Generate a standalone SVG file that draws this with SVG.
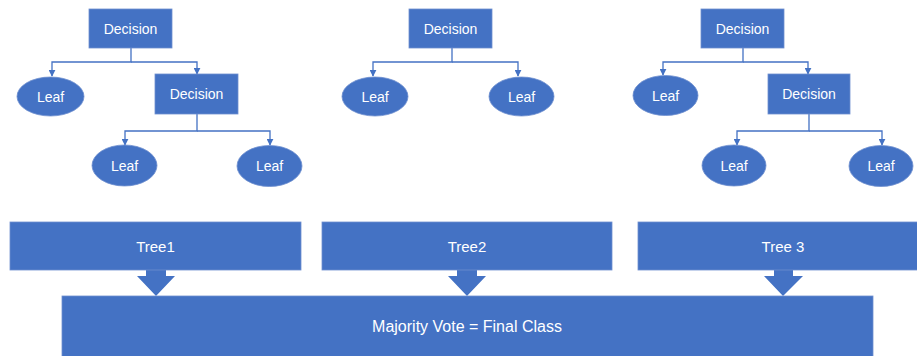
<svg xmlns="http://www.w3.org/2000/svg" width="917" height="356" viewBox="0 0 917 356">
  <style>
    .dec { fill: #4472C4; stroke: #6f8fcf; stroke-width: 0.8; }
    .leaf { fill: #4472C4; stroke: #6f8fcf; stroke-width: 0.8; }
    .bar { fill: #4472C4; stroke: #6f8fcf; stroke-width: 0.8; }
    .blk { fill: #4472C4; }
    .lbl { fill: #ffffff; font-family: "Liberation Sans", Arial, sans-serif; font-size: 14px; text-anchor: middle; dominant-baseline: central; }
    .big { font-size: 15px; }
    .vote { font-size: 16px; }
    .con { fill: none; stroke: #4472C4; stroke-width: 1.3; }
  </style>
  <defs>
    <marker id="arr" viewBox="0 0 10 10" refX="9" refY="5" markerWidth="7" markerHeight="7" markerUnits="userSpaceOnUse" orient="auto">
      <path d="M0,0 L10,5 L0,10 Z" fill="#4472C4"/>
    </marker>
  </defs>
  <rect width="917" height="356" fill="#ffffff"/>

  <!-- connectors -->
  <g id="connectors">
    <!-- tree 1 -->
    <path class="con" d="M131,48 V62 H52 V76" marker-end="url(#arr)"/>
    <path class="con" d="M131,62 H197 V74" marker-end="url(#arr)"/>
    <path class="con" d="M197,114 V131 H125 V145" marker-end="url(#arr)"/>
    <path class="con" d="M197,131 H270 V145" marker-end="url(#arr)"/>
    <!-- tree 2 -->
    <path class="con" d="M452,48 V62 H373 V76" marker-end="url(#arr)"/>
    <path class="con" d="M452,62 H518 V76" marker-end="url(#arr)"/>
    <!-- tree 3 -->
    <path class="con" d="M743,48 V62 H663 V75" marker-end="url(#arr)"/>
    <path class="con" d="M743,62 H808 V74" marker-end="url(#arr)"/>
    <path class="con" d="M809,114 V131 H737 V145" marker-end="url(#arr)"/>
    <path class="con" d="M809,131 H882 V145" marker-end="url(#arr)"/>
    <!-- block arrows into the vote bar -->
    <path class="blk" d="M146,270 H166 V276 H175 L156,296 L137,276 H146 Z"/>
    <path class="blk" d="M457,270 H477 V276 H486 L467,296 L448,276 H457 Z"/>
    <path class="blk" d="M774,270 H793 V276 H803 L783,296 L764,276 H774 Z"/>
  </g>

  <!-- tree 1 -->
  <g id="t1-root"><rect class="dec" x="89" y="9" width="83" height="39"/><text class="lbl" x="130.5" y="28.5">Decision</text></g>
  <g id="t1-leaf1"><ellipse class="leaf" cx="50.5" cy="96.5" rx="33.5" ry="19.5"/><text class="lbl" x="50.5" y="96.5">Leaf</text></g>
  <g id="t1-dec2"><rect class="dec" x="155" y="74" width="83" height="40"/><text class="lbl" x="196.5" y="94">Decision</text></g>
  <g id="t1-leaf2"><ellipse class="leaf" cx="124.5" cy="165.5" rx="32.5" ry="20.5"/><text class="lbl" x="124.5" y="165.5">Leaf</text></g>
  <g id="t1-leaf3"><ellipse class="leaf" cx="269.5" cy="166" rx="32.5" ry="20.5"/><text class="lbl" x="269.5" y="166">Leaf</text></g>

  <!-- tree 2 -->
  <g id="t2-root"><rect class="dec" x="409" y="9" width="83" height="39"/><text class="lbl" x="450.5" y="28.5">Decision</text></g>
  <g id="t2-leaf1"><ellipse class="leaf" cx="375" cy="96.5" rx="33" ry="19.5"/><text class="lbl" x="375" y="96.5">Leaf</text></g>
  <g id="t2-leaf2"><ellipse class="leaf" cx="521.5" cy="96.5" rx="32.5" ry="19.5"/><text class="lbl" x="521.5" y="96.5">Leaf</text></g>

  <!-- tree 3 -->
  <g id="t3-root"><rect class="dec" x="701" y="9" width="83" height="39"/><text class="lbl" x="742.5" y="28.5">Decision</text></g>
  <g id="t3-leaf1"><ellipse class="leaf" cx="665.5" cy="95.5" rx="32.5" ry="20"/><text class="lbl" x="665.5" y="95.5">Leaf</text></g>
  <g id="t3-dec2"><rect class="dec" x="768" y="74" width="82" height="40"/><text class="lbl" x="809" y="94">Decision</text></g>
  <g id="t3-leaf2"><ellipse class="leaf" cx="734" cy="165.5" rx="32" ry="20.5"/><text class="lbl" x="734" y="165.5">Leaf</text></g>
  <g id="t3-leaf3"><ellipse class="leaf" cx="881" cy="166" rx="32" ry="20.5"/><text class="lbl" x="881" y="166">Leaf</text></g>

  <!-- tree bars -->
  <g id="tree1"><rect class="bar" x="10" y="222" width="291" height="48"/><text class="lbl big" x="155.5" y="246">Tree1</text></g>
  <g id="tree2"><rect class="bar" x="322" y="222" width="290" height="48"/><text class="lbl big" x="467" y="246">Tree2</text></g>
  <g id="tree3"><rect class="bar" x="638" y="222" width="285" height="48"/><text class="lbl big" x="783" y="246">Tree 3</text></g>

  <!-- vote bar -->
  <g id="vote"><rect class="bar" x="62" y="296" width="811" height="66"/><text class="lbl vote" x="467" y="326">Majority Vote = Final Class</text></g>
</svg>
